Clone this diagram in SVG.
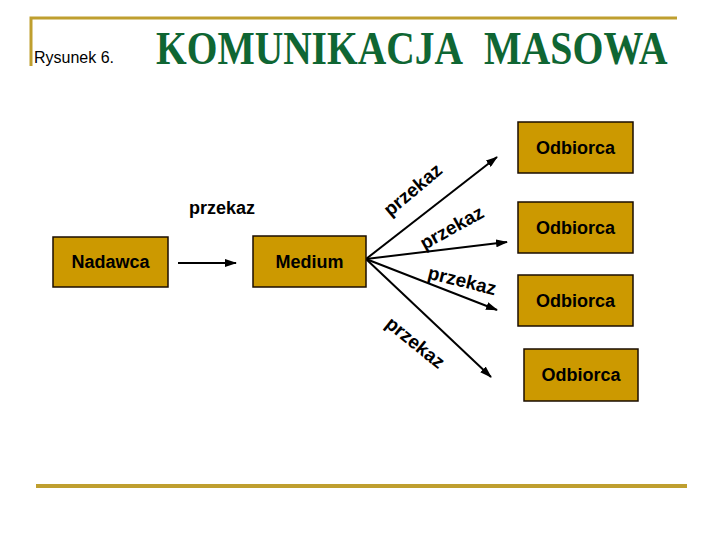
<svg xmlns="http://www.w3.org/2000/svg" width="720" height="540" viewBox="0 0 720 540">
<style>
.box{fill:#CC9900;stroke:#1a0d00;stroke-width:1.5}
.lbl{font-family:"Liberation Sans",Arial,sans-serif;font-weight:bold;font-size:18px;fill:#000;text-anchor:middle}
.rot{font-size:19px}
.conn{stroke:#000;stroke-width:2;fill:none;marker-end:url(#ah)}
.frame{stroke:#BF9F2F;fill:none}
.ttl{font-family:"Liberation Serif","Times New Roman",serif;font-weight:bold;font-size:46px;fill:#0F6633}
</style>
<defs>
<marker id="ah" markerWidth="12" markerHeight="8" refX="11" refY="4" orient="auto" markerUnits="userSpaceOnUse">
<path d="M0,0 L12,4 L0,8 z" fill="#000"/>
</marker>
</defs>
<rect width="720" height="540" fill="#fff"/>
<g id="frame">
<path class="frame" stroke-width="3" d="M31,66 V18 H677"/>
<path class="frame" stroke-width="4" d="M36,486 H687"/>
</g>
<g id="title">
<text x="34" y="63" font-family="'Liberation Sans',Arial,sans-serif" font-size="16" fill="#000">Rysunek 6.</text>
<text class="ttl" transform="translate(156,64) scale(0.9,1)" x="0" y="0" textLength="341" lengthAdjust="spacingAndGlyphs">KOMUNIKACJA</text>
<text class="ttl" transform="translate(484,64) scale(0.9,1)" x="0" y="0" textLength="204" lengthAdjust="spacingAndGlyphs">MASOWA</text>
</g>
<g id="connectors">
<line class="conn" x1="178" y1="263" x2="236" y2="263"/>
<line class="conn" x1="366" y1="259" x2="497" y2="157"/>
<line class="conn" x1="366" y1="259" x2="507" y2="242"/>
<line class="conn" x1="366" y1="259" x2="497" y2="310"/>
<line class="conn" x1="366" y1="259" x2="491" y2="377"/>
</g>
<g id="labels">
<text class="lbl" x="222" y="214">przekaz</text>
<text class="lbl rot" transform="translate(413,190) rotate(-40)" x="0" y="6">przekaz</text>
<text class="lbl rot" transform="translate(452,228) rotate(-29)" x="0" y="6">przekaz</text>
<text class="lbl rot" transform="translate(462,281) rotate(14)" x="0" y="6">przekaz</text>
<text class="lbl rot" transform="translate(415,343) rotate(39)" x="0" y="6">przekaz</text>
</g>
<g id="nadawca"><rect class="box" x="53" y="237" width="115" height="50"/><text class="lbl" x="110.5" y="268">Nadawca</text></g>
<g id="medium"><rect class="box" x="253" y="236" width="113" height="51"/><text class="lbl" x="309.5" y="268">Medium</text></g>
<g id="odbiorca1"><rect class="box" x="518" y="122" width="115" height="51"/><text class="lbl" x="575.5" y="154">Odbiorca</text></g>
<g id="odbiorca2"><rect class="box" x="518" y="202" width="115" height="51"/><text class="lbl" x="575.5" y="234">Odbiorca</text></g>
<g id="odbiorca3"><rect class="box" x="518" y="275" width="115" height="51"/><text class="lbl" x="575.5" y="307">Odbiorca</text></g>
<g id="odbiorca4"><rect class="box" x="524" y="349" width="114" height="52"/><text class="lbl" x="581" y="381">Odbiorca</text></g>
</svg>
